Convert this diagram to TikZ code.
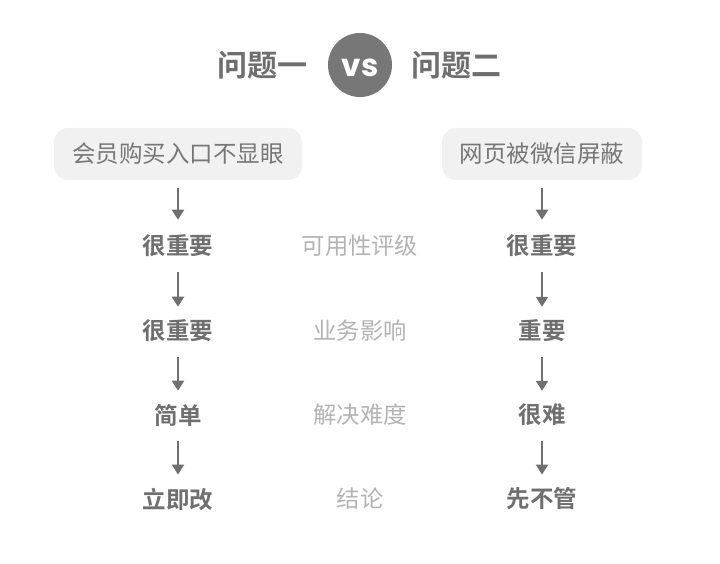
\documentclass[tikz,border=0pt]{standalone}
\usepackage{fontspec}
\setmainfont{Noto Sans CJK SC}
\newfontfamily\cjkb{Noto Sans CJK SC Bold}
\newfontfamily\vsfont{Poppins Bold}
\usetikzlibrary{arrows.meta}
\definecolor{dk}{HTML}{6F6F6F}
\definecolor{lt}{HTML}{B3B3B3}
\definecolor{boxfill}{HTML}{F1F1F1}
\definecolor{boxtext}{HTML}{777777}
\tikzset{
  x=1pt,y=-1pt,
  titletext/.style={font=\cjkb\fontsize{30}{30}\selectfont, text=dk, inner sep=0pt},
  startbox/.style={fill=boxfill, rounded corners=14pt, font=\fontsize{23.5}{23.5}\selectfont, text=boxtext, minimum height=52pt, inner xsep=15pt},
  stepval/.style={font=\cjkb\fontsize{23.5}{23.5}\selectfont, text=dk, inner sep=0pt},
  steplabel/.style={font=\fontsize{23.3}{23.3}\selectfont, text=lt, inner sep=0pt},
  flowarrow/.style={draw=dk, line width=2pt, -{Triangle[width=12pt,length=10pt]}},
}
\begin{document}
\begin{tikzpicture}
\useasboundingbox (0,0) rectangle (720,564);
\node[titletext] (t1) at (262,65) {问题一};
\node[circle, fill=boxtext, minimum size=64pt, inner sep=0pt] (vs) at (360,65) {};
\node[text=white, inner sep=0pt, font=\vsfont\fontsize{31}{31}\selectfont, yshift=-3pt] (vstext) at (vs.center) {vs};
\node[titletext] (t2) at (456,65) {问题二};

\node[startbox, minimum width=248pt] (a0) at (178,154) {会员购买入口不显眼};
\node[startbox, minimum width=200pt] (b0) at (542,154) {网页被微信屏蔽};

\node[stepval] (a1) at (178,246) {很重要};
\node[stepval] (a2) at (178,331) {很重要};
\node[stepval] (a3) at (178,415) {简单};
\node[stepval] (a4) at (178,499) {立即改};

\node[stepval] (b1) at (542,246) {很重要};
\node[stepval] (b2) at (542,331) {重要};
\node[stepval] (b3) at (542,415) {很难};
\node[stepval] (b4) at (542,499) {先不管};

\node[steplabel] (l1) at (360,246) {可用性评级};
\node[steplabel] (l2) at (360,331) {业务影响};
\node[steplabel] (l3) at (360,415) {解决难度};
\node[steplabel] (l4) at (360,499) {结论};

\draw[flowarrow] ([yshift=-8pt]a0.south) -- ([yshift=15pt]a1.north);
\draw[flowarrow] ([yshift=-15pt]a1.south) -- ([yshift=13pt]a2.north);
\draw[flowarrow] ([yshift=-15pt]a2.south) -- ([yshift=13pt]a3.north);
\draw[flowarrow] ([yshift=-15pt]a3.south) -- ([yshift=13pt]a4.north);
\draw[flowarrow] ([yshift=-8pt]b0.south) -- ([yshift=15pt]b1.north);
\draw[flowarrow] ([yshift=-15pt]b1.south) -- ([yshift=13pt]b2.north);
\draw[flowarrow] ([yshift=-15pt]b2.south) -- ([yshift=13pt]b3.north);
\draw[flowarrow] ([yshift=-15pt]b3.south) -- ([yshift=13pt]b4.north);
\end{tikzpicture}
\end{document}
